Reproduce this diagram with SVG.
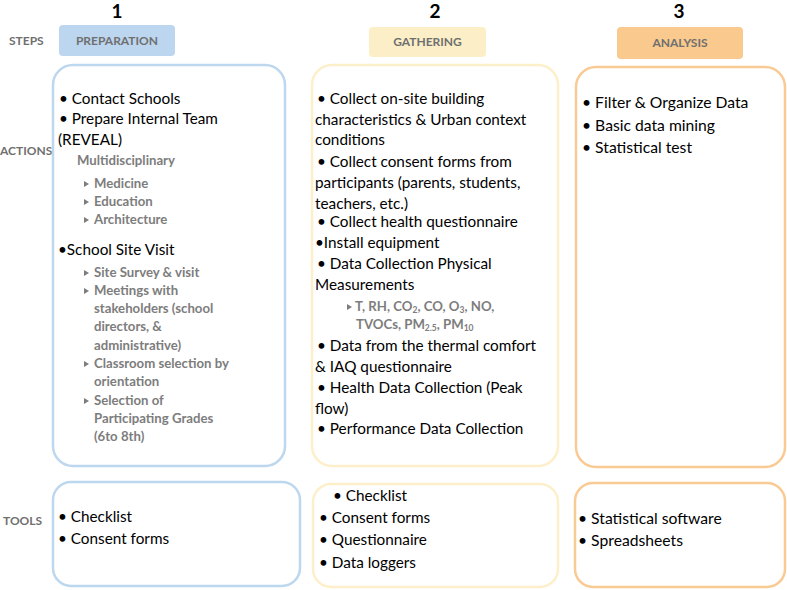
<svg xmlns="http://www.w3.org/2000/svg" width="787" height="590" viewBox="0 0 787 590">
<style>
.num{font-family:Lato,"Liberation Sans",sans-serif;font-weight:bold;font-size:19px;fill:#000;text-anchor:middle}
.lab{font-family:Lato,"Liberation Sans",sans-serif;font-weight:bold;font-size:12px;fill:#6f6f6f}
.pill{font-family:Lato,"Liberation Sans",sans-serif;font-weight:bold;font-size:12px;fill:#6f6f6f;text-anchor:middle}
.t{font-family:Lato,"Liberation Sans",sans-serif;font-size:15.3px;fill:#000}
.t3{font-size:15.7px}
.s{font-family:Lato,"Liberation Sans",sans-serif;font-weight:bold;font-size:13.2px;fill:#7d7d7d}
.sub{font-size:8.5px}
.blue{fill:#fff;stroke:#bdd7ee;stroke-width:2.5}
.yel{fill:#fff;stroke:#fcefca;stroke-width:2.5}
.org{fill:#fff;stroke:#f9ca93;stroke-width:2.5}
.tri{fill:#7d7d7d}
</style>
<defs>
<path id="tri" d="M0,-3 L5,0 L0,3 Z" class="tri"/>
</defs>
<g id="row-labels">
<text class="lab" x="9" y="45">STEPS</text>
<text class="lab" x="0" y="155">ACTIONS</text>
<text class="lab" x="3" y="525">TOOLS</text>
</g>
<g id="step1">
<text class="num" x="117" y="18">1</text>
<rect x="59" y="25" width="116" height="31" rx="4" fill="#bcd6ef"/>
<text class="pill" x="117" y="45">PREPARATION</text>
</g>
<g id="step2">
<text class="num" x="435" y="18">2</text>
<rect x="369" y="27" width="117" height="30" rx="4" fill="#fcefc7"/>
<text class="pill" x="427.5" y="46">GATHERING</text>
</g>
<g id="step3">
<text class="num" x="679" y="18">3</text>
<rect x="617" y="27" width="126" height="32" rx="4" fill="#f9c98d"/>
<text class="pill" x="680" y="47">ANALYSIS</text>
</g>
<g id="actions1">
<rect class="blue" x="53" y="65" width="232" height="401" rx="20"/>
<text class="t" x="59" y="104">• Contact Schools</text>
<text class="t" x="59" y="124">• Prepare Internal Team</text>
<text class="t" x="58" y="145">(REVEAL)</text>
<text class="s" x="77" y="165">Multidisciplinary</text>
<use href="#tri" x="84" y="184"/><text class="s" x="94" y="188">Medicine</text>
<use href="#tri" x="84" y="202"/><text class="s" x="94" y="206">Education</text>
<use href="#tri" x="84" y="220"/><text class="s" x="94" y="224">Architecture</text>
<text class="t" x="58" y="255">•School Site Visit</text>
<use href="#tri" x="84" y="273"/><text class="s" x="94" y="277">Site Survey &amp; visit</text>
<use href="#tri" x="84" y="291"/><text class="s" x="94" y="295">Meetings with</text>
<text class="s" x="94" y="313">stakeholders (school</text>
<text class="s" x="94" y="331">directors, &amp;</text>
<text class="s" x="94" y="350">administrative)</text>
<use href="#tri" x="84" y="364"/><text class="s" x="94" y="368">Classroom selection by</text>
<text class="s" x="94" y="386">orientation</text>
<use href="#tri" x="84" y="401"/><text class="s" x="94" y="405">Selection of</text>
<text class="s" x="94" y="423">Participating Grades</text>
<text class="s" x="94" y="441">(6to 8th)</text>
</g>
<g id="actions2">
<rect class="yel" x="312" y="65" width="246" height="401" rx="20"/>
<text class="t" x="317" y="104">• Collect on-site building</text>
<text class="t" x="315" y="125">characteristics &amp; Urban context</text>
<text class="t" x="315" y="145">conditions</text>
<text class="t" x="317" y="167">• Collect consent forms from</text>
<text class="t" x="315" y="188">participants (parents, students,</text>
<text class="t" x="315" y="209">teachers, etc.)</text>
<text class="t" x="317" y="227">• Collect health questionnaire</text>
<text class="t" x="315" y="248">•Install equipment</text>
<text class="t" x="317" y="269">• Data Collection Physical</text>
<text class="t" x="315" y="290">Measurements</text>
<use href="#tri" x="347" y="307"/><text class="s" x="355" y="311">T, RH, CO<tspan class="sub" dy="2">2</tspan><tspan dy="-2">, CO, O</tspan><tspan class="sub" dy="2">3</tspan><tspan dy="-2">, NO,</tspan></text>
<text class="s" x="356" y="329">TVOCs, PM<tspan class="sub" dy="2">2.5</tspan><tspan dy="-2">, PM</tspan><tspan class="sub" dy="2">10</tspan></text>
<text class="t" x="317" y="351">• Data from the thermal comfort</text>
<text class="t" x="315" y="372">&amp; IAQ questionnaire</text>
<text class="t" x="317" y="393">• Health Data Collection (Peak</text>
<text class="t" x="315" y="414">flow)</text>
<text class="t" x="317" y="434">• Performance Data Collection</text>
</g>
<g id="actions3">
<rect class="org" x="576" y="67" width="209" height="400" rx="20"/>
<text class="t t3" x="582" y="108">• Filter &amp; Organize Data</text>
<text class="t t3" x="582" y="131">• Basic data mining</text>
<text class="t t3" x="582" y="153">• Statistical test</text>
</g>
<g id="tools1">
<rect class="blue" x="53" y="482" width="247" height="104" rx="18"/>
<text class="t" x="58" y="522">• Checklist</text>
<text class="t" x="58" y="544">• Consent forms</text>
</g>
<g id="tools2">
<rect class="yel" x="313" y="484" width="245" height="103" rx="18"/>
<text class="t" x="333" y="501">• Checklist</text>
<text class="t" x="319" y="523">• Consent forms</text>
<text class="t" x="319" y="545">• Questionnaire</text>
<text class="t" x="319" y="568">• Data loggers</text>
</g>
<g id="tools3">
<rect class="org" x="575" y="483" width="210" height="104" rx="18"/>
<text class="t t3" x="578" y="524">• Statistical software</text>
<text class="t t3" x="578" y="546">• Spreadsheets</text>
</g>
<g id="connectors"/>
</svg>
